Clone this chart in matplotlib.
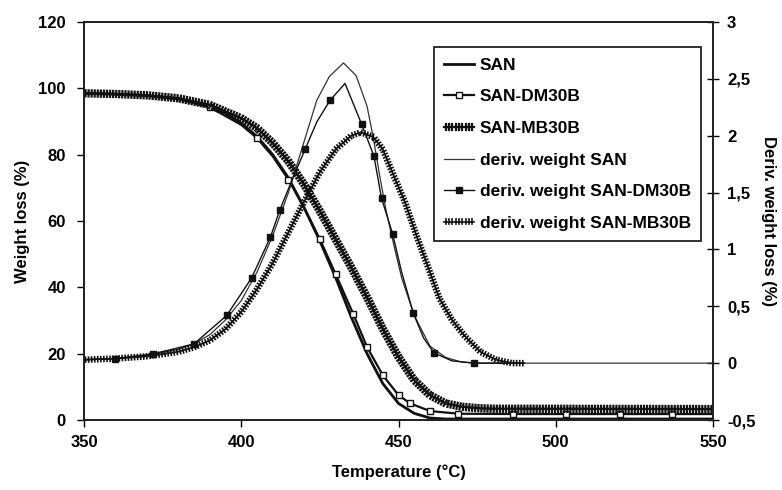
import matplotlib
matplotlib.use("Agg")
import matplotlib.pyplot as plt
import matplotlib.patheffects as pe
from matplotlib.ticker import FuncFormatter, MultipleLocator

plt.rcParams['font.family'] = ['Liberation Sans', 'DejaVu Sans']
plt.rcParams['font.weight'] = 'bold'

# ---- weight loss curves (left axis, %) ----
T_san = [350, 360, 370, 380, 390, 395, 400, 405, 410, 415, 420, 425, 430, 435, 440, 445, 450, 455, 460, 465, 550]
W_san = [98.5, 98.2, 97.8, 96.8, 94.5, 92.5, 89.5, 85.5, 80, 73, 64, 54, 43, 31, 20, 11, 5, 2, 0.6, 0.3, 0.3]

T_dm = [350, 360, 370, 380, 390, 400, 405, 410, 415, 420, 425, 430, 435.6, 440, 445, 450, 453.7, 460, 469, 486.3, 503.3, 520.4, 536.9, 550]
W_dm = [98.5, 98.3, 97.8, 96.8, 94.3, 89, 85, 79.5, 72.5, 64, 54.5, 44, 32, 22, 13.5, 7.5, 5.0, 2.7, 1.9, 1.8, 1.8, 1.8, 1.8, 1.8]
dm_marks = [4, 6, 8, 10, 11, 12, 13, 14, 15, 16, 17, 18, 19, 20, 21, 22]

T_mb = [350, 360, 370, 380, 390, 400, 405, 410, 415, 420, 425, 430, 435, 440, 445, 450, 455, 460, 465, 470, 475, 480, 550]
W_mb = [98.5, 98.3, 97.9, 97, 95, 91, 88, 83.5, 78, 71, 63, 54.5, 46, 37, 27.5, 19, 12, 7.5, 5, 4, 3.6, 3.4, 3.3]

# ---- derivative curves (right axis, %) ----
T_dsan = [350, 360, 370, 380, 385, 390, 395, 400, 405, 410, 415, 420, 424, 428, 432.5, 436.5, 440, 442, 444, 446, 448, 451, 455, 460, 465, 470, 475, 550]
D_san = [0.03, 0.04, 0.07, 0.12, 0.17, 0.25, 0.38, 0.55, 0.8, 1.12, 1.5, 1.95, 2.31, 2.52, 2.64, 2.53, 2.26, 1.98, 1.65, 1.35, 1.1, 0.75, 0.42, 0.15, 0.05, 0.01, 0.0, 0.0]

T_ddm = [350, 360, 372, 385, 395.4, 403.3, 409.3, 412.3, 416, 420.3, 424, 428.2, 433, 438.3, 442.2, 444.6, 448.1, 451, 454.7, 458, 461.3, 467, 474, 488]
D_dm = [0.03, 0.04, 0.08, 0.17, 0.42, 0.75, 1.11, 1.35, 1.6, 1.88, 2.12, 2.31, 2.46, 2.10, 1.82, 1.45, 1.14, 0.8, 0.44, 0.22, 0.09, 0.02, 0.0, 0.0]
ddm_marks = [1, 2, 3, 4, 5, 6, 7, 9, 11, 13, 14, 15, 16, 18, 20, 22]

T_dmb = [350, 360, 370, 380, 385, 390, 395, 400, 405, 410, 415, 420, 425, 430, 435, 438, 442, 445, 448, 452, 456, 460, 463, 467, 471, 476, 481, 486, 490]
D_mb = [0.03, 0.04, 0.06, 0.1, 0.14, 0.2, 0.3, 0.45, 0.65, 0.88, 1.15, 1.42, 1.68, 1.88, 2.0, 2.03, 1.99, 1.88, 1.68, 1.42, 1.1, 0.8, 0.57, 0.38, 0.24, 0.1, 0.03, 0.0, 0.0]

labels = ['SAN', 'SAN-DM30B', 'SAN-MB30B', 'deriv. weight SAN',
          'deriv. weight SAN-DM30B', 'deriv. weight SAN-MB30B']
x_ticks = [350, 400, 450, 500, 550]

fig = plt.figure(figsize=(7.82, 4.90), dpi=100)
ax = fig.add_axes([84/782, 70/490, 629/782, 398/490])
ax2 = ax.twinx()

k = '#111111'
hatch = [pe.withTickedStroke(spacing=2.2, angle=90, length=1.0),
         pe.TickedStroke(spacing=2.2, angle=-90, length=1.0)]
hatch2 = [pe.withTickedStroke(spacing=2.2, angle=90, length=0.8),
          pe.TickedStroke(spacing=2.2, angle=-90, length=0.8)]

h1, = ax.plot(T_san, W_san, color=k, lw=2.0, label=labels[0])
h2, = ax.plot(T_dm, W_dm, color=k, lw=1.6, marker='s', ms=5, mfc='white',
              mec=k, mew=1.0, markevery=dm_marks, label=labels[1])
h3, = ax.plot(T_mb, W_mb, color=k, lw=1.6, path_effects=hatch, label=labels[2])

h4, = ax2.plot(T_dsan, D_san, color='#333333', lw=0.9, label=labels[3])
h5, = ax2.plot(T_ddm, D_dm, color=k, lw=1.0, marker='s', ms=4, mfc=k, mec=k,
               markevery=ddm_marks, label=labels[4])
h6, = ax2.plot(T_dmb, D_mb, color=k, lw=1.2, path_effects=hatch2, label=labels[5])

ax.set_xlim(350, 550)
ax.set_ylim(0, 120)
ax2.set_ylim(-0.5, 3)
ax.set_xticks(x_ticks)
ax.yaxis.set_major_locator(MultipleLocator(20))
ax2.yaxis.set_major_locator(MultipleLocator(0.5))
ax2.yaxis.set_major_formatter(FuncFormatter(
    lambda v, p: ('%g' % v).replace('.', ',')))

for a in (ax, ax2):
    for s in a.spines.values():
        s.set_linewidth(1.3)
        s.set_color('#222222')
ax.tick_params(axis='x', direction='out', length=5, width=1, labelsize=12, pad=6)
ax.tick_params(axis='y', direction='out', length=5, width=1, labelsize=12, pad=8)
ax2.tick_params(axis='y', direction='inout', length=8, width=1, labelsize=12, pad=6)

ax.set_xlabel('Temperature (°C)', fontsize=12, fontweight='bold', labelpad=10)
ax.set_ylabel('Weight loss (%)', fontsize=12, fontweight='bold', labelpad=6)
ax2.set_ylabel('Deriv. weight loss (%)', fontsize=12, fontweight='bold',
               rotation=-90, labelpad=4, va='bottom')

leg = ax2.legend(handles=[h1, h2, h3, h4, h5, h6], loc='upper left',
                 bbox_to_anchor=(0.556, 0.937), borderaxespad=0,
                 fancybox=False, edgecolor='#222222', framealpha=1,
                 prop={'size': 12.5, 'weight': 'bold'}, handlelength=1.7,
                 handletextpad=0.35, labelspacing=0.95, borderpad=0.6)
leg.get_frame().set_linewidth(1.3)

fig.savefig('out.png', dpi=100)
